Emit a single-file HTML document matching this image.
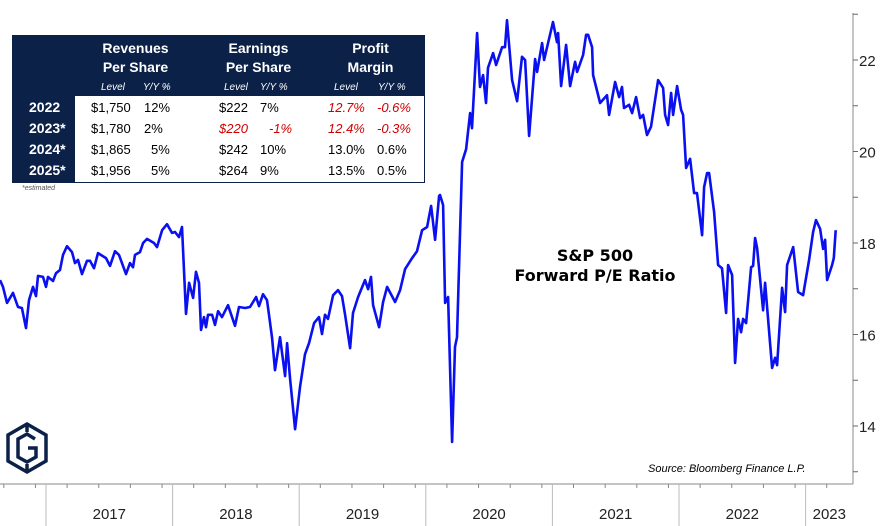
<!DOCTYPE html>
<html><head><meta charset="utf-8"><style>
body{margin:0;background:#fff;width:882px;height:526px;overflow:hidden;font-family:"Liberation Sans",sans-serif;position:relative}
#tbl{position:absolute;left:12px;top:35px;width:413px;height:148px;border:1px solid #0b2148;box-sizing:border-box;background:#fff}
.c{position:absolute;font-size:13px;white-space:nowrap}
.h{color:#fff;font-weight:bold;font-size:14px;text-align:center}
.s{color:#fff;font-style:italic;font-size:10px}
.red{color:#d00000;font-style:italic}
</style></head><body>
<svg id="chart" width="882" height="526" style="position:absolute;left:0;top:0"></svg>
<div id="tbl">
<div style="position:absolute;left:0;top:0;width:411px;height:60px;background:#0b2148"></div>
<div style="position:absolute;left:0;top:60px;width:62px;height:86px;background:#0b2148"></div>
<div class="c h" style="left:75px;top:3px;width:95px;line-height:19px">Revenues<br>Per Share</div>
<div class="c h" style="left:198px;top:3px;width:95px;line-height:19px">Earnings<br>Per Share</div>
<div class="c h" style="left:310px;top:3px;width:95px;line-height:19px">Profit<br>Margin</div>
<div class="c s" style="left:88px;top:46px">Level</div><div class="c s" style="left:130px;top:46px">Y/Y %</div>
<div class="c s" style="left:211px;top:46px">Level</div><div class="c s" style="left:247px;top:46px">Y/Y %</div>
<div class="c s" style="left:321px;top:46px">Level</div><div class="c s" style="left:365px;top:46px">Y/Y %</div>
<div class="c h" style="left:16px;top:63px">2022</div><div class="c h" style="left:16px;top:84px">2023*</div>
<div class="c h" style="left:16px;top:105px">2024*</div><div class="c h" style="left:16px;top:126px">2025*</div>
<div class="c" style="left:78px;top:64px">$1,750</div><div class="c" style="left:131px;top:64px">12%</div>
<div class="c" style="left:78px;top:85px">$1,780</div><div class="c" style="left:131px;top:85px">2%</div>
<div class="c" style="left:78px;top:106px">$1,865</div><div class="c" style="left:138px;top:106px">5%</div>
<div class="c" style="left:78px;top:127px">$1,956</div><div class="c" style="left:138px;top:127px">5%</div>
<div class="c" style="left:206px;top:64px">$222</div><div class="c" style="left:247px;top:64px">7%</div>
<div class="c red" style="left:206px;top:85px">$220</div><div class="c red" style="left:256px;top:85px">-1%</div>
<div class="c" style="left:206px;top:106px">$242</div><div class="c" style="left:247px;top:106px">10%</div>
<div class="c" style="left:206px;top:127px">$264</div><div class="c" style="left:247px;top:127px">9%</div>
<div class="c red" style="left:315px;top:64px">12.7%</div><div class="c red" style="left:364px;top:64px">-0.6%</div>
<div class="c red" style="left:315px;top:85px">12.4%</div><div class="c red" style="left:364px;top:85px">-0.3%</div>
<div class="c" style="left:315px;top:106px">13.0%</div><div class="c" style="left:364px;top:106px">0.6%</div>
<div class="c" style="left:315px;top:127px">13.5%</div><div class="c" style="left:364px;top:127px">0.5%</div>
</div>
<div class="c" style="left:22px;top:185px;font-size:7px;font-style:italic;color:#555">*estimated</div>
<div class="c" style="left:495px;top:246px;font-size:16px;font-weight:bold;text-align:center;width:200px;line-height:20px;font-family:'DejaVu Sans',sans-serif">S&amp;P 500<br>Forward P/E Ratio</div>
<div class="c" style="left:648px;top:463px;font-size:11px;font-style:italic">Source: Bloomberg Finance L.P.</div>
<svg style="position:absolute;left:4px;top:421px" width="46" height="54" viewBox="0 0 46 54">
<path d="M23 3 L42 14 L42 40 L23 51 L4 40 L4 14 Z" fill="none" stroke="#0b2148" stroke-width="3.5"/>
<path d="M23 3 L23 11 M23 51 L23 43 M31 18 L23 13 L14 18 L14 36 L23 41 L32 36 L32 27 L24 27" fill="none" stroke="#0b2148" stroke-width="3.5"/>
</svg>
<script>
const months=[-4.36,-4.08,-3.7,-3.13,-2.65,-2.28,-1.9,-1.61,-1.23,-0.95,-0.76,-0.28,0,0.19,0.66,0.95,1.33,1.61,1.99,2.46,2.75,3.03,3.41,3.89,4.17,4.55,4.93,5.69,6.07,6.54,6.92,7.58,7.96,8.25,8.44,8.91,9.2,9.57,10.24,10.52,11,11.47,11.94,12.23,12.61,12.89,13.27,13.56,13.94,14.22,14.5,14.69,14.98,15.17,15.36,15.74,16.02,16.31,16.68,17.25,17.91,18.29,18.86,19.34,19.91,20.19,20.57,20.95,21.14,21.43,21.71,22.18,22.66,22.85,23.13,23.61,24.08,24.55,24.93,25.41,25.88,26.16,26.45,26.73,27.21,27.68,28.06,28.35,28.82,29.1,29.58,30.24,30.53,30.81,31,31.57,31.95,32.33,33.09,33.56,34.04,34.7,35.17,35.65,36.12,36.5,36.88,37.26,37.35,37.64,37.83,38.11,38.49,38.77,38.96,39.44,39.82,40.2,40.38,40.86,41.14,41.43,41.71,41.9,42.38,42.66,43.23,43.51,43.7,44.18,44.65,45.12,45.41,45.79,46.36,46.55,47.02,47.21,48.06,48.44,48.54,48.82,49.3,49.68,50.15,50.34,50.91,51.19,51.38,51.76,51.86,52.52,53.18,53.37,53.94,54.32,54.6,54.79,55.27,55.55,55.93,56.31,56.6,56.97,57.35,58.02,58.49,58.68,58.97,59.25,59.44,59.82,60.2,60.39,60.67,61.05,61.43,61.71,62.19,62.38,62.66,62.85,63.33,63.71,64.08,64.46,64.65,65.03,65.32,65.6,65.89,66.08,66.36,66.83,67.02,67.21,67.4,67.97,68.16,68.82,69.11,69.3,69.77,70.06,70.25,70.82,71.29,71.76,72.33,72.71,72.99,73.37,73.66,73.85,74.04,74.51,74.67,74.85];
const peValues=[17.19,17.04,16.69,16.91,16.6,16.58,16.14,16.75,17.04,16.84,17.28,17.26,17.04,17.26,17.17,17.34,17.41,17.74,17.93,17.8,17.56,17.63,17.32,17.61,17.61,17.45,17.78,17.67,17.5,17.82,17.74,17.32,17.56,17.47,17.74,17.8,18,18.09,18,17.91,18.28,18.41,18.22,18.24,18.13,18.35,16.45,17.13,16.8,17.37,17.13,16.1,16.38,16.16,16.43,16.43,16.21,16.51,16.38,16.64,16.19,16.6,16.58,16.6,16.82,16.62,16.88,16.75,16.43,15.92,15.22,15.94,15.09,15.81,15.05,13.93,14.85,15.57,15.81,16.25,16.38,16.01,16.43,16.34,16.86,16.97,16.84,16.43,15.7,16.47,16.82,17.19,16.99,17.26,16.64,16.16,16.71,17.04,16.71,16.97,17.43,17.67,17.82,18.28,18.35,18.81,18.07,19.03,19.05,18.83,16.69,16.82,13.65,15.73,15.94,19.77,20.05,20.84,20.51,22.59,21.41,21.67,21.06,21.83,22.15,21.89,22.28,22.28,22.87,21.56,21.1,22.07,22,20.34,22.02,21.74,22.37,22,22.83,22.39,22.59,21.43,22.33,21.43,21.96,21.74,22.11,22.55,22.55,22.28,21.67,21.06,21.23,20.8,21.52,21.19,21.41,20.95,21.02,20.84,21.19,20.73,20.8,20.36,20.54,21.56,21.39,20.8,20.58,21.28,20.8,21.43,20.91,20.8,19.64,19.84,19.09,19.09,18.17,19.22,19.53,19.53,18.68,17.52,17.45,16.47,17.52,17.3,15.38,16.34,16.05,16.34,16.25,17.47,17.5,18.11,17.89,16.53,17.13,15.27,15.49,15.33,17.02,16.49,17.52,17.91,16.93,16.86,17.63,18.24,18.5,18.31,17.87,18.07,17.19,17.52,17.67,18.28];
const yearLabels=["2017","2018","2019","2020","2021","2022","2023"];
const yTicks=[14,16,18,20,22];
const NS="http://www.w3.org/2000/svg";
const svg=document.getElementById('chart');
const X=m=>46+m*10.55;
const Y=v=>60+(22-v)*45.75;
function el(t,a){const e=document.createElementNS(NS,t);for(const k in a)e.setAttribute(k,a[k]);svg.appendChild(e);return e;}
// axes
let ax=el('line',{x1:853,y1:13,x2:853,y2:484,stroke:'#888','stroke-width':1});


let bx=el('line',{x1:0,y1:484,x2:853,y2:484,stroke:'#888','stroke-width':1});


for(let v=13;v<=23;v++){const t=el('line',{x1:853,x2:858,y1:Y(v),y2:Y(v),stroke:'#666'});

}
yTicks.forEach(v=>{const t=el('text',{x:859,y:Y(v)+6,'font-size':15,fill:'#222','font-family':'Liberation Sans, sans-serif'});t.textContent=v;

});
for(let m=-4;m<=78;m+=3){if(X(m)>853)break;const t=el('line',{x1:X(m),x2:X(m),y1:484,y2:488,stroke:'#888'});

}
yearLabels.forEach((y,i)=>{const x0=X(i*12),x1=Math.min(X(i*12+12),853);
const d=el('line',{x1:x0,x2:x0,y1:484,y2:526,stroke:'#bbb'});


const t=el('text',{x:(x0+x1)/2,y:519,'font-size':15,'text-anchor':'middle',fill:'#222','font-family':'Liberation Sans, sans-serif'});t.textContent=y;

});
let d='';months.forEach((m,i)=>{d+=(i?'L':'M')+X(m).toFixed(1)+' '+Y(peValues[i]).toFixed(1)});
const p=el('path',{d:d,fill:'none',stroke:'#0a10f0','stroke-width':2.6,'stroke-linejoin':'round'});


</script>
</body></html>
